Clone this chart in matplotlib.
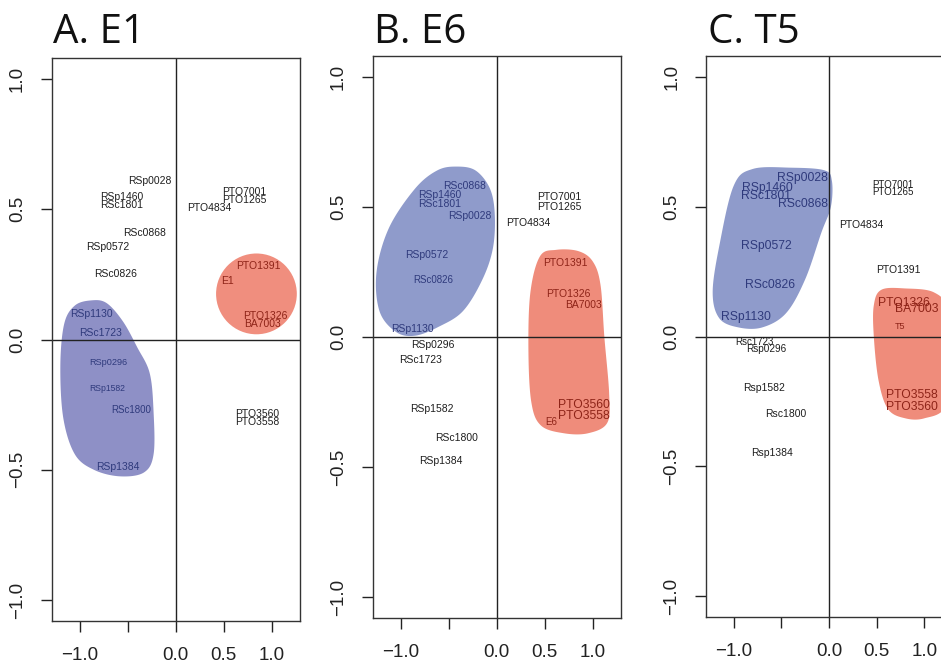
import numpy as np
import matplotlib
matplotlib.use("Agg")
import matplotlib.pyplot as plt
from matplotlib.patches import Polygon, Ellipse

plt.rcParams["font.family"] = ["Liberation Sans", "DejaVu Sans"]

# shared axis ticks
x_ticks = [-1.0, -0.5, 0.0, 0.5, 1.0]
x_ticklabels = ["\u22121.0", "", "0.0", "0.5", "1.0"]
y_ticks = [-1.0, -0.5, 0.0, 0.5, 1.0]
y_ticklabels = ["\u22121.0", "\u22120.5", "0.0", "0.5", "1.0"]

# ---- panel A: E1 ----
a_labels = ["RSp0028", "RSp1460", "RSc1801", "RSc0868", "RSp0572", "RSc0826",
            "RSp1130", "RSc1723", "RSp0296", "RSp1582", "RSc1800", "RSp1384",
            "PTO7001", "PTO1265", "PTO4834", "PTO1391", "E1", "PTO1326", "BA7003",
            "PTO3560", "PTO3558"]
a_x = [-0.27, -0.56, -0.56, -0.32, -0.71, -0.63,
       -0.88, -0.78, -0.70, -0.71, -0.46, -0.60,
       0.71, 0.71, 0.35, 0.86, 0.54, 0.93, 0.90,
       0.85, 0.85]
a_y = [0.607, 0.547, 0.516, 0.409, 0.354, 0.251,
       0.097, 0.024, -0.089, -0.188, -0.271, -0.490,
       0.566, 0.535, 0.505, 0.282, 0.226, 0.092, 0.058,
       -0.284, -0.315]
a_group = ["k"] * 6 + ["b"] * 6 + ["k"] * 3 + ["r"] * 4 + ["k"] * 2
a_blue_x = [-0.88, -0.72, -0.55, -0.40, -0.27, -0.23, -0.23, -0.33, -0.58, -0.85, -1.05, -1.17, -1.20, -1.16, -1.05]
a_blue_y = [0.15, 0.14, 0.07, -0.03, -0.13, -0.28, -0.44, -0.51, -0.525, -0.50, -0.44, -0.30, -0.10, 0.06, 0.13]
a_red_center = (0.84, 0.175)
a_red_size = (0.84, 0.31)

# ---- panel B: E6 ----
b_labels = ["RSc0868", "RSp1460", "RSc1801", "RSp0028", "RSp0572", "RSc0826", "RSp1130",
            "RSp0296", "RSc1723", "RSp1582", "RSc1800", "RSp1384",
            "PTO7001", "PTO1265", "PTO4834",
            "PTO1391", "PTO1326", "BA7003", "PTO3560", "PTO3558", "E6"]
b_x = [-0.33, -0.59, -0.59, -0.28, -0.73, -0.66, -0.88,
       -0.66, -0.79, -0.67, -0.42, -0.58,
       0.65, 0.65, 0.33,
       0.71, 0.74, 0.90, 0.905, 0.905, 0.57]
b_y = [0.58, 0.547, 0.51, 0.465, 0.317, 0.218, 0.03,
       -0.032, -0.089, -0.278, -0.39, -0.476,
       0.537, 0.50, 0.44,
       0.284, 0.164, 0.122, -0.262, -0.304, -0.327]
b_group = ["b"] * 7 + ["k"] * 5 + ["k"] * 3 + ["r"] * 6
b_blue_x = [-0.42, -0.22, -0.07, -0.02, -0.04, -0.15, -0.35, -0.60, -0.85, -1.05, -1.22, -1.25, -1.12, -0.85, -0.62]
b_blue_y = [0.655, 0.64, 0.57, 0.47, 0.34, 0.22, 0.10, 0.04, 0.005, 0.02, 0.10, 0.25, 0.42, 0.57, 0.64]
b_red_x = [0.45, 0.62, 0.85, 1.00, 1.08, 1.12, 1.17, 1.15, 0.95, 0.70, 0.46, 0.36, 0.33, 0.35]
b_red_y = [0.31, 0.335, 0.33, 0.29, 0.20, 0.0, -0.22, -0.33, -0.37, -0.37, -0.34, -0.25, -0.05, 0.17]

# ---- panel C: T5 ----
c_labels = ["RSp0028", "RSp1460", "RSc1801", "RSc0868", "RSp0572", "RSc0826", "RSp1130",
            "Rsc1723", "Rsp0296", "Rsp1582", "Rsc1800", "Rsp1384",
            "PTO7001", "PTO1265", "PTO4834", "PTO1391",
            "PTO1326", "BA7003", "T5", "PTO3558", "PTO3560"]
c_x = [-0.28, -0.65, -0.66, -0.27, -0.66, -0.62, -0.87,
       -0.78, -0.66, -0.68, -0.45, -0.60,
       0.67, 0.67, 0.34, 0.73,
       0.79, 0.92, 0.74, 0.87, 0.87]
c_y = [0.61, 0.57, 0.54, 0.51, 0.35, 0.20, 0.075,
       -0.02, -0.05, -0.20, -0.30, -0.45,
       0.585, 0.555, 0.43, 0.255,
       0.13, 0.105, 0.04, -0.225, -0.27]
c_group = ["b"] * 7 + ["k"] * 5 + ["k"] * 4 + ["r"] * 5
c_blue_x = [-0.80, -0.40, -0.05, 0.03, 0.02, -0.08, -0.25, -0.45, -0.70, -0.95, -1.15, -1.22, -1.15, -1.00]
c_blue_y = [0.645, 0.65, 0.64, 0.60, 0.50, 0.40, 0.22, 0.09, 0.035, 0.035, 0.07, 0.17, 0.35, 0.58]
c_red_x = [0.55, 0.80, 1.10, 1.25, 1.28, 1.22, 1.00, 0.80, 0.62, 0.52, 0.47, 0.47]
c_red_y = [0.18, 0.185, 0.17, 0.10, -0.10, -0.27, -0.315, -0.315, -0.28, -0.17, 0.0, 0.12]

text_colors = {"k": "#1e1e1e", "b": "#2f3a7c", "r": "#8e2418"}


def smooth_closed(xs, ys, n=24):
    # closed Catmull-Rom curve through the outline points
    p = np.column_stack([xs, ys])
    m = len(p)
    t = np.linspace(0, 1, n, endpoint=False)[:, None]
    out = []
    for i in range(m):
        p0, p1, p2, p3 = p[i - 1], p[i], p[(i + 1) % m], p[(i + 2) % m]
        out.append(0.5 * (2 * p1 + (-p0 + p2) * t
                          + (2 * p0 - 5 * p1 + 4 * p2 - p3) * t ** 2
                          + (-p0 + 3 * p1 - 3 * p2 + p3) * t ** 3))
    return np.vstack(out)


def blob(ax, xs, ys, color):
    ax.add_patch(Polygon(smooth_closed(xs, ys), closed=True, facecolor=color,
                         edgecolor="none", zorder=1))


def setup(ax):
    ax.set_xlim(-1.29, 1.29)
    ax.set_ylim(-1.08, 1.08)
    ax.axhline(0, color="#222222", lw=1.0, zorder=2)
    ax.axvline(0, color="#222222", lw=1.0, zorder=2)
    ax.set_xticks(x_ticks)
    ax.set_xticklabels(x_ticklabels)
    ax.set_yticks(y_ticks)
    ax.set_yticklabels(y_ticklabels, rotation=90, va="center")
    ax.tick_params(length=8, width=1.0, pad=10.5, labelsize=13.5,
                   colors="#222222")
    for s in ax.spines.values():
        s.set_linewidth(1.0)
        s.set_color("#333333")


def labels(ax, names, xs, ys, groups, sizes):
    for name, x, y, g in zip(names, xs, ys, groups):
        ax.text(x, y, name, ha="center", va="center", color=text_colors[g],
                fontsize=sizes.get(name, 7.5), zorder=3)


fig = plt.figure(figsize=(9.41, 6.64), dpi=100)
W, H = 941, 664
ax_a = fig.add_axes([51.7 / W, 1 - 621 / H, 248 / W, 563 / H])
ax_b = fig.add_axes([372.7 / W, 1 - 618 / H, 248 / W, 562 / H])
ax_c = fig.add_axes([706 / W, 1 - 617 / H, 246 / W, 561 / H])

# A
setup(ax_a)
blob(ax_a, a_blue_x, a_blue_y, "#8e90c6")
ax_a.add_patch(Ellipse(a_red_center, a_red_size[0], a_red_size[1],
                       facecolor="#f08e7e", edgecolor="none", zorder=1))
labels(ax_a, a_labels, a_x, a_y, a_group,
       {"RSp0296": 6.6, "RSp1582": 6.2, "RSc1800": 7.0})

# B
setup(ax_b)
blob(ax_b, b_blue_x, b_blue_y, "#8f9bcb")
blob(ax_b, b_red_x, b_red_y, "#ef8c7b")
labels(ax_b, b_labels, b_x, b_y, b_group,
       {"RSc0826": 7.0, "PTO3560": 8.7, "PTO3558": 8.7, "E6": 7.0})

# C
setup(ax_c)
blob(ax_c, c_blue_x, c_blue_y, "#8f9bcb")
blob(ax_c, c_red_x, c_red_y, "#ef8c7b")
c_sizes = {n: 8.7 for n in c_labels[:7]}
c_sizes.update({"Rsc1723": 7.0, "Rsp0296": 7.2, "PTO7001": 7.0, "PTO1265": 7.0,
                "PTO1326": 8.7, "BA7003": 8.7, "T5": 6.5, "PTO3558": 8.7, "PTO3560": 8.7})
labels(ax_c, c_labels, c_x, c_y, c_group, c_sizes)

for ax, title in [(ax_a, "A. E1"), (ax_b, "B. E6"), (ax_c, "C. T5")]:
    x0 = ax.get_position().x0
    fig.text(x0 + 1.5 / W, 1 - 43 / H, title, fontsize=29, family="Open Sans",
             va="baseline", ha="left", color="#111111")

fig.savefig("out.png", dpi=100)
